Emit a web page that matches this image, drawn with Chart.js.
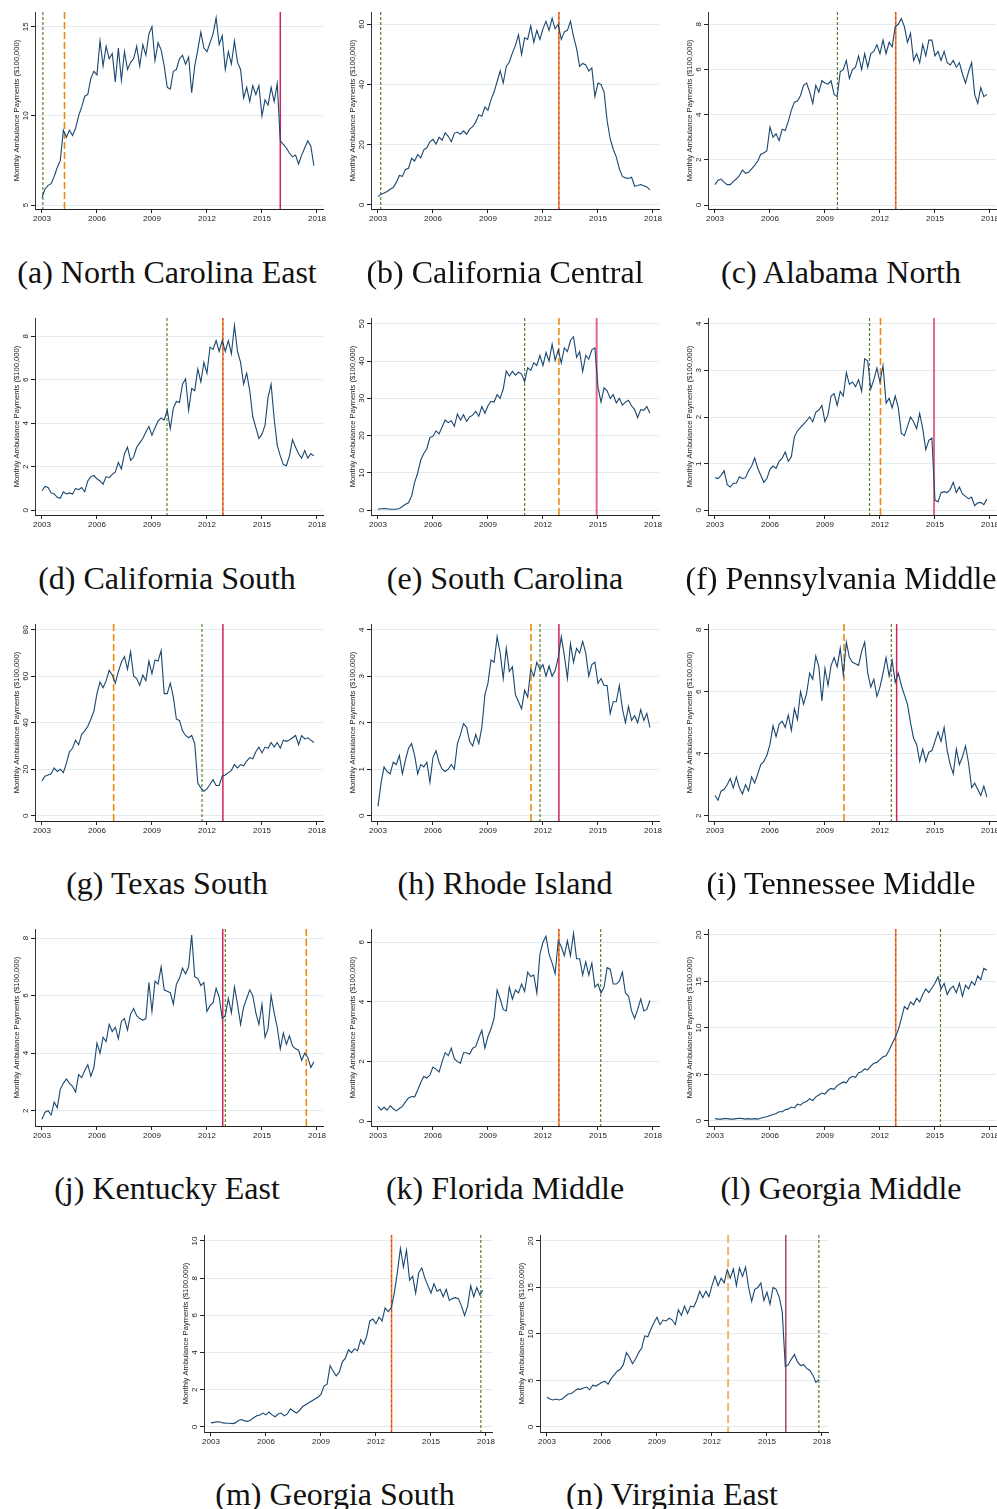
<!DOCTYPE html>
<html>
<head>
<meta charset="utf-8">
<script src="https://cdn.jsdelivr.net/npm/chart.js@4.4.1/dist/chart.umd.min.js"></script>
<style>
  html, body { margin: 0; padding: 0; background: #fff; overflow: hidden; }
  body { width: 997px; height: 1509px; position: relative; }
  canvas { position: absolute; }
  .cap { position: absolute; font-family: "Liberation Serif", "Times New Roman", serif; font-size: 32px;
         line-height: 32px; white-space: nowrap; color: #111; transform: translateX(-50%); }
</style>
</head>
<body>
<script>
// bimonthly observations, Jan 2003 .. Nov 2017
const OBS_DATES = Array.from({ length: 90 }, (_, i) => 2003 + i / 6);
const X_TICKS = [2003, 2006, 2009, 2012, 2015, 2018];
const Y_TITLE = 'Monthly Ambulance Payments ($100,000)';

// series, $100,000 per month
const NC_EAST = [5.4, 5.9, 6.1, 6.2, 6.6, 7.1, 7.5, 9.2, 8.8, 9.2, 8.9, 9.3, 10.0, 10.5, 11.1, 11.2, 12.1, 12.5,
  12.3, 14.2, 12.8, 13.9, 13.2, 13.5, 11.9, 13.8, 12.0, 13.6, 12.6, 13.0, 13.2, 13.9, 12.8, 14.0, 13.4, 14.6,
  15.0, 13.1, 14.1, 13.7, 12.8, 11.6, 11.5, 12.5, 12.6, 13.2, 13.4, 12.9, 13.3, 11.3, 12.8, 13.7, 14.7, 13.8,
  13.6, 14.1, 14.6, 15.5, 14.0, 14.5, 12.6, 13.6, 12.9, 14.2, 13.0, 12.6, 11.0, 11.6, 10.8, 11.7, 11.2, 11.7,
  10.0, 10.9, 10.6, 11.6, 10.8, 11.8, 8.6, 8.4, 8.2, 7.9, 7.7, 7.8, 7.3, 7.8, 8.2, 8.6, 8.3, 7.2];
const CA_CENTRAL = [2.8, 3.6, 4.0, 4.5, 5.2, 5.8, 7.5, 9.8, 9.5, 11.8, 12.2, 15.5, 14.6, 16.8, 15.6, 18.3, 19.0, 21.0,
  21.8, 20.2, 22.5, 21.5, 24.0, 22.8, 21.0, 23.8, 24.2, 23.5, 24.6, 23.5, 25.2, 26.0, 27.5, 30.0, 29.5, 32.5,
  31.5, 35.0, 37.5, 41.0, 44.5, 40.5, 46.0, 47.5, 50.5, 53.0, 56.5, 50.0, 55.5, 55.0, 59.5, 54.0, 58.0, 55.0,
  58.5, 61.0, 58.0, 62.0, 58.5, 60.0, 55.0, 57.5, 58.0, 61.0, 56.0, 52.0, 46.0, 47.0, 46.5, 44.5, 45.5, 36.0,
  40.5, 40.0, 37.5, 28.0, 22.0, 18.5, 16.0, 12.0, 9.5, 9.0, 8.8, 9.2, 6.3, 6.5, 6.8, 6.4, 6.0, 5.0];
const AL_NORTH = [0.9, 1.1, 1.15, 1.0, 0.9, 0.9, 1.05, 1.15, 1.3, 1.55, 1.4, 1.45, 1.6, 1.75, 1.95, 2.25, 2.3, 2.4,
  3.45, 3.0, 3.15, 2.85, 3.35, 3.3, 3.7, 4.2, 4.55, 4.6, 4.85, 5.3, 5.4, 5.0, 4.5, 5.3, 5.0, 5.5,
  5.4, 5.35, 5.5, 4.9, 4.8, 5.9, 6.0, 6.4, 5.6, 6.0, 6.1, 6.6, 6.0, 6.7, 6.1, 6.7, 6.8, 7.1,
  6.7, 7.3, 6.7, 7.2, 7.0, 7.9, 8.0, 8.25, 7.9, 7.2, 7.6, 6.4, 6.7, 6.3, 7.1, 6.6, 7.3, 7.3,
  6.6, 6.8, 6.4, 6.8, 6.3, 6.2, 6.4, 6.1, 6.3, 5.8, 5.4, 5.9, 6.3, 4.9, 4.5, 5.2, 4.8, 4.9];
const CA_SOUTH = [0.9, 1.1, 1.05, 0.8, 0.75, 0.6, 0.55, 0.85, 0.75, 0.8, 0.75, 1.0, 0.95, 1.05, 0.85, 1.35, 1.55, 1.6,
  1.45, 1.35, 1.2, 1.55, 1.5, 1.65, 1.75, 2.2, 1.9, 2.6, 2.9, 2.3, 2.45, 2.9, 3.1, 3.3, 3.6, 3.85,
  3.45, 3.8, 4.1, 4.25, 4.15, 4.6, 3.75, 4.7, 5.0, 4.95, 5.8, 6.05, 4.6, 5.6, 5.5, 6.5, 5.9, 6.8,
  6.3, 7.5, 7.4, 7.8, 7.3, 7.8, 7.3, 7.8, 7.2, 8.5, 7.3, 6.8, 5.8, 6.3, 5.5, 4.3, 3.8, 3.3,
  3.5, 3.9, 5.2, 5.8, 4.2, 3.0, 2.5, 2.1, 2.05, 2.5, 3.25, 2.9, 2.6, 2.4, 2.75, 2.4, 2.6, 2.5];
const SC_STATE = [0.3, 0.4, 0.5, 0.4, 0.3, 0.3, 0.3, 0.5, 1.0, 1.6, 2.0, 3.8, 7.5, 10.0, 13.5, 15.2, 16.5, 19.5,
  19.8, 21.3, 20.5, 22.3, 24.2, 23.5, 24.0, 22.5, 25.8, 24.2, 25.6, 23.8, 25.0, 25.5, 26.5, 25.2, 27.8, 26.0,
  28.0, 29.2, 29.0, 31.0, 30.0, 32.5, 37.3, 36.0, 37.2, 36.2, 37.0, 36.5, 34.5, 38.2, 37.5, 39.5, 38.8, 41.5,
  38.8, 42.3, 40.0, 44.5, 40.2, 43.0, 39.5, 43.5, 42.5, 45.5, 46.5, 41.0, 42.5, 37.2, 41.5, 40.5, 43.0, 43.5,
  33.0, 29.0, 32.8, 32.0, 30.0, 31.0, 28.8, 30.0, 28.2, 29.0, 29.5, 28.0, 27.0, 24.8, 27.0, 26.8, 27.8, 26.0];
const PA_MIDDLE = [0.7, 0.68, 0.75, 0.85, 0.55, 0.5, 0.58, 0.58, 0.72, 0.68, 0.7, 0.85, 0.95, 1.12, 0.9, 0.75, 0.6, 0.68,
  0.88, 0.95, 0.9, 1.05, 1.12, 1.25, 1.05, 1.15, 1.58, 1.7, 1.78, 1.85, 1.92, 2.0, 1.9, 2.1, 2.15, 2.25,
  1.9, 2.05, 2.45, 2.5, 2.25, 2.55, 2.45, 2.95, 2.7, 2.75, 2.65, 2.8, 2.55, 3.25, 3.2, 2.6, 2.8, 3.05,
  2.75, 3.1, 2.3, 2.4, 2.2, 2.45, 2.2, 1.65, 1.6, 1.8, 2.0, 1.9, 1.75, 2.08, 1.75, 1.3, 1.5, 1.55,
  0.22, 0.18, 0.38, 0.4, 0.38, 0.45, 0.6, 0.38, 0.5, 0.35, 0.3, 0.25, 0.28, 0.1, 0.16, 0.17, 0.12, 0.24];
const TX_SOUTH = [15.0, 17.0, 17.5, 18.0, 20.5, 19.0, 20.0, 18.5, 22.5, 27.5, 29.0, 32.5, 30.5, 35.0, 36.5, 38.5, 41.5, 45.0,
  52.5, 57.5, 55.0, 58.0, 62.5, 60.5, 57.0, 62.0, 66.0, 68.5, 63.0, 70.5, 60.0, 59.0, 56.0, 60.5, 58.0, 66.5,
  61.0, 67.0, 66.5, 71.0, 52.5, 52.5, 57.0, 51.0, 41.5, 41.0, 36.5, 34.5, 33.5, 34.5, 31.0, 14.0, 12.0, 10.5,
  11.5, 13.5, 15.5, 13.0, 13.0, 17.0, 17.5, 18.5, 19.5, 22.0, 20.5, 22.0, 21.5, 23.5, 25.0, 24.5, 27.5, 29.5,
  27.0, 29.5, 29.0, 31.5, 29.5, 31.5, 29.0, 32.5, 32.0, 32.5, 33.5, 34.5, 30.5, 34.5, 33.0, 33.5, 32.5, 31.5];
const RI_STATE = [0.2, 0.7, 1.05, 0.95, 0.9, 1.15, 1.1, 1.3, 0.9, 1.2, 1.45, 1.55, 1.3, 0.9, 1.1, 1.05, 1.15, 0.72,
  1.25, 1.4, 1.15, 1.0, 0.95, 1.0, 1.1, 1.0, 1.55, 1.75, 1.98, 1.9, 1.6, 1.5, 1.75, 1.55, 1.9, 2.6,
  2.85, 3.35, 3.3, 3.85, 3.5, 2.95, 3.6, 3.1, 3.2, 2.6, 2.45, 2.3, 2.7, 2.55, 3.15, 3.0, 3.3, 3.15,
  3.25, 3.0, 3.22, 3.0, 3.12, 3.4, 3.85, 3.45, 2.95, 3.7, 3.3, 3.6, 3.5, 3.75, 3.5, 3.0, 3.25, 3.3,
  2.85, 2.95, 2.8, 2.8, 2.2, 2.45, 2.45, 2.8, 2.3, 2.0, 2.35, 2.05, 2.15, 2.0, 2.28, 2.05, 2.2, 1.9];
const TN_MIDDLE = [2.65, 2.5, 2.8, 2.85, 3.0, 3.2, 2.9, 3.25, 2.9, 2.7, 3.0, 2.8, 3.25, 3.05, 3.35, 3.65, 3.75, 3.95,
  4.3, 4.9, 4.55, 4.95, 5.05, 4.85, 5.25, 4.75, 5.45, 5.1, 6.0, 5.6, 5.95, 6.6, 6.4, 7.15, 6.8, 5.7,
  6.75, 6.2, 6.85, 7.1, 6.8, 7.4, 6.55, 7.6, 7.1, 6.95, 6.9, 6.85, 7.3, 7.6, 6.6, 6.15, 6.4, 5.85,
  6.15, 6.6, 7.1, 6.5, 7.0, 6.3, 6.6, 6.2, 5.9, 5.6, 5.0, 4.5, 4.3, 3.75, 4.15, 3.75, 4.05, 4.1,
  4.4, 4.7, 4.4, 4.85, 4.1, 3.65, 3.35, 4.15, 3.65, 3.9, 4.25, 3.7, 2.9, 3.05, 2.85, 2.65, 2.95, 2.6];
const KY_EAST = [1.7, 1.95, 2.0, 1.85, 2.3, 2.1, 2.75, 2.95, 3.1, 2.95, 2.85, 2.65, 3.25, 3.15, 3.4, 3.6, 3.2, 3.5,
  4.35, 4.0, 4.55, 4.4, 5.0, 4.75, 4.9, 4.5, 5.1, 5.2, 4.8, 5.35, 5.55, 5.3, 5.2, 5.15, 5.2, 6.45,
  5.45, 6.5, 6.4, 7.0, 6.2, 6.15, 6.1, 5.7, 6.4, 6.6, 6.95, 6.75, 7.0, 8.1, 6.65, 6.6, 6.35, 6.45,
  5.45, 5.65, 5.75, 6.25, 5.95, 5.2, 5.3, 5.9, 5.4, 6.3, 5.7, 5.0, 5.6, 5.9, 6.2, 6.0, 5.4, 5.0,
  5.7, 4.55, 4.85, 6.0, 5.4, 4.9, 4.15, 4.7, 4.3, 4.6, 4.25, 4.15, 4.1, 3.75, 4.0, 3.85, 3.5, 3.7];
const FL_MIDDLE = [0.5, 0.38, 0.47, 0.37, 0.52, 0.42, 0.35, 0.43, 0.5, 0.65, 0.78, 0.83, 0.82, 1.05, 1.3, 1.5, 1.45, 1.55,
  1.82, 1.75, 1.65, 2.0, 2.3, 2.2, 2.45, 2.1, 2.0, 1.95, 2.3, 2.3, 2.25, 2.45, 2.5, 2.8, 3.05, 2.45,
  2.85, 3.1, 3.45, 4.4, 4.1, 3.75, 3.7, 4.5, 4.1, 4.4, 4.3, 4.6, 4.35, 5.0, 4.85, 4.9, 4.3, 5.6,
  6.0, 6.2, 5.6, 5.3, 4.95, 6.05, 5.85, 5.55, 6.05, 5.55, 6.3, 5.45, 5.45, 4.9, 5.35, 4.9, 5.3, 4.5,
  4.6, 4.3, 4.5, 5.15, 5.1, 4.6, 4.6, 4.7, 5.0, 4.3, 4.2, 3.7, 3.45, 3.75, 4.1, 3.7, 3.75, 4.05];
const GA_MIDDLE = [0.25, 0.2, 0.2, 0.25, 0.25, 0.2, 0.2, 0.25, 0.3, 0.25, 0.2, 0.25, 0.2, 0.25, 0.2, 0.3, 0.4, 0.45,
  0.6, 0.7, 0.8, 1.0, 1.0, 1.2, 1.3, 1.5, 1.4, 1.8, 1.7, 2.0, 2.1, 2.4, 2.2, 2.6, 2.8, 3.0,
  2.9, 3.3, 3.5, 3.4, 3.8, 4.0, 4.2, 4.1, 4.6, 4.8, 4.7, 5.2, 5.3, 5.6, 5.5, 5.9, 6.2, 6.3,
  6.6, 6.9, 7.0, 7.6, 8.3, 9.0, 9.8, 11.0, 12.3, 12.0, 12.8, 12.5, 13.2, 12.8, 13.6, 14.2, 13.8, 14.3,
  14.8, 15.5, 14.2, 14.8, 13.6, 14.2, 14.5, 13.8, 14.8, 13.4, 14.6, 14.2, 15.0, 14.6, 15.6, 15.2, 16.4, 16.2];
const GA_SOUTH = [0.22, 0.25, 0.28, 0.27, 0.22, 0.2, 0.2, 0.18, 0.22, 0.35, 0.4, 0.33, 0.3, 0.38, 0.5, 0.6, 0.65, 0.75,
  0.65, 0.8, 0.65, 0.55, 0.7, 0.75, 0.6, 0.7, 0.98, 0.85, 0.75, 0.9, 1.1, 1.2, 1.3, 1.4, 1.5, 1.6,
  1.75, 2.2, 2.3, 3.3, 3.0, 2.75, 2.95, 3.5, 3.7, 4.15, 4.0, 4.2, 4.1, 4.7, 4.45, 4.9, 5.7, 5.8,
  5.55, 5.9, 5.7, 6.4, 6.2, 6.4, 7.2, 8.3, 9.6, 8.6, 9.5, 7.9, 8.1, 7.2, 8.3, 8.55, 8.0, 7.6,
  7.2, 7.7, 7.3, 7.4, 7.0, 7.4, 6.8, 6.9, 6.95, 6.9, 6.5, 6.0, 6.5, 7.6, 7.0, 7.5, 7.1, 7.35];
const VA_EAST = [3.2, 3.0, 2.9, 3.0, 2.9, 3.0, 3.3, 3.55, 3.6, 3.85, 4.1, 4.05, 4.2, 4.3, 4.0, 4.5, 4.4, 4.6,
  4.8, 4.9, 4.6, 5.2, 5.6, 6.0, 6.2, 6.7, 8.0, 7.5, 6.8, 7.3, 8.0, 8.5, 9.8, 9.7, 10.5, 11.2,
  11.8, 11.0, 11.5, 11.4, 11.7, 11.5, 11.0, 12.6, 12.0, 13.0, 12.2, 13.0, 12.9, 13.6, 14.6, 13.9, 14.6, 14.0,
  15.2, 16.2, 15.2, 16.0, 15.5, 16.9, 16.0, 17.0, 15.2, 17.1, 16.2, 17.2, 15.0, 13.5, 14.8, 15.0, 15.5, 13.6,
  14.5, 13.2, 15.0, 14.8, 14.0, 12.4, 6.5, 6.7, 7.3, 7.8, 7.0, 6.6, 6.7, 6.3, 6.1, 5.6, 4.8, 5.1];

// y tick values per panel
const TICKS_A = [5, 10, 15];
const TICKS_B = [0, 20, 40, 60];
const TICKS_C = [0, 2, 4, 6, 8];
const TICKS_D = [0, 2, 4, 6, 8];
const TICKS_E = [0, 10, 20, 30, 40, 50];
const TICKS_F = [0, 1, 2, 3, 4];
const TICKS_G = [0, 20, 40, 60, 80];
const TICKS_H = [0, 1, 2, 3, 4];
const TICKS_I = [2, 4, 6, 8];
const TICKS_J = [2, 4, 6, 8];
const TICKS_K = [0, 2, 4, 6];
const TICKS_L = [0, 5, 10, 15, 20];
const TICKS_M = [0, 2, 4, 6, 8, 10];
const TICKS_N = [0, 5, 10, 15, 20];

// vertical event lines: [date, kind]
const EVENTS_A = [[2003.05, 'g'], [2004.23, 'o'], [2016.0, 'r']];
const EVENTS_B = [[2003.15, 'g'], [2012.87, 'or']];
const EVENTS_C = [[2009.68, 'g'], [2012.86, 'or']];
const EVENTS_D = [[2009.82, 'g'], [2012.87, 'or']];
const EVENTS_E = [[2011.0, 'g'], [2012.87, 'o'], [2014.93, 'rp']];
const EVENTS_F = [[2011.43, 'g'], [2012.03, 'o'], [2014.95, 'rp']];
const EVENTS_G = [[2006.91, 'o'], [2011.73, 'g'], [2012.87, 'r']];
const EVENTS_H = [[2011.35, 'o'], [2011.84, 'g'], [2012.87, 'r']];
const EVENTS_I = [[2010.04, 'o'], [2012.62, 'g'], [2012.91, 'r']];
const EVENTS_J = [[2012.86, 'r'], [2013.0, 'g'], [2017.42, 'o']];
const EVENTS_K = [[2012.87, 'or'], [2015.15, 'g']];
const EVENTS_L = [[2012.86, 'or'], [2015.3, 'g']];
const EVENTS_M = [[2012.85, 'or'], [2017.72, 'g']];
const EVENTS_N = [[2012.88, 'ol'], [2016.03, 'rd'], [2017.83, 'g']];

const LINE_STYLES = {
  g:  [{ color: '#5b7f2e', width: 1.2, dash: [3, 2] }],
  o:  [{ color: '#ea8a10', width: 1.6, dash: [7, 3] }],
  ol: [{ color: '#f2b66a', width: 2, dash: [8, 4] }],
  r:  [{ color: '#d3234f', width: 1.5, dash: [] }],
  rp: [{ color: '#e6668a', width: 2, dash: [] }],
  rd: [{ color: '#8e1b33', width: 1.2, dash: [] }],
  or: [{ color: '#ec7f12', width: 1.6, dash: [] }, { color: '#d4306a', width: 1, dash: [2, 3] }]
};

// layout
const YW = 36, PLOT_W = 288, PR = 14, PLOT_H = 197, XH = 22;
const X_MIN = 2002.62, X_MAX = 2018.33;
const ROW_TOP = [12, 318, 624, 929, 1235];
const ROW_BASE = [283, 589, 894, 1199, 1505];
const COL_AX = [34.7, 371.3, 708];
const COL_CX = [167, 505, 841];

const PANELS = [
  { tag: 'a', name: 'North Carolina East', series: NC_EAST, ticks: TICKS_A, yMin: 4.776, yMax: 15.824, events: EVENTS_A, row: 0, col: 0 },
  { tag: 'b', name: 'California Central', series: CA_CENTRAL, ticks: TICKS_B, yMin: -1.33, yMax: 64.08, events: EVENTS_B, row: 0, col: 1 },
  { tag: 'c', name: 'Alabama North', series: AL_NORTH, ticks: TICKS_C, yMin: -0.177, yMax: 8.545, events: EVENTS_C, row: 0, col: 2 },
  { tag: 'd', name: 'California South', series: CA_SOUTH, ticks: TICKS_D, yMin: -0.216, yMax: 8.841, events: EVENTS_D, row: 1, col: 0 },
  { tag: 'e', name: 'South Carolina', series: SC_STATE, ticks: TICKS_E, yMin: -1.26, yMax: 51.53, events: EVENTS_E, row: 1, col: 1 },
  { tag: 'f', name: 'Pennsylvania Middle', series: PA_MIDDLE, ticks: TICKS_F, yMin: -0.1, yMax: 4.122, events: EVENTS_F, row: 1, col: 2 },
  { tag: 'g', name: 'Texas South', series: TX_SOUTH, ticks: TICKS_G, yMin: -2.28, yMax: 82.45, events: EVENTS_G, row: 2, col: 0 },
  { tag: 'h', name: 'Rhode Island', series: RI_STATE, ticks: TICKS_H, yMin: -0.114, yMax: 4.123, events: EVENTS_H, row: 2, col: 1 },
  { tag: 'i', name: 'Tennessee Middle', series: TN_MIDDLE, ticks: TICKS_I, yMin: 1.829, yMax: 8.184, events: EVENTS_I, row: 2, col: 2 },
  { tag: 'j', name: 'Kentucky East', series: KY_EAST, ticks: TICKS_J, yMin: 1.468, yMax: 8.313, events: EVENTS_J, row: 3, col: 0 },
  { tag: 'k', name: 'Florida Middle', series: FL_MIDDLE, ticks: TICKS_K, yMin: -0.158, yMax: 6.446, events: EVENTS_K, row: 3, col: 1 },
  { tag: 'l', name: 'Georgia Middle', series: GA_MIDDLE, ticks: TICKS_L, yMin: -0.54, yMax: 20.645, events: EVENTS_L, row: 3, col: 2 },
  { tag: 'm', name: 'Georgia South', series: GA_SOUTH, ticks: TICKS_M, yMin: -0.269, yMax: 10.32, events: EVENTS_M, row: 4, ax: 203.5, cx: 335 },
  { tag: 'n', name: 'Virginia East', series: VA_EAST, ticks: TICKS_N, yMin: -0.54, yMax: 20.645, events: EVENTS_N, row: 4, ax: 540, cx: 672 }
];

Chart.defaults.font.family = '"Liberation Sans", Arial, sans-serif';

const eventLines = {
  id: 'eventLines',
  beforeDatasetsDraw(chart, args, opts) {
    const ctx = chart.ctx, area = chart.chartArea, xs = chart.scales.x;
    ctx.save();
    opts.lines.forEach(([date, kind]) => {
      const x = xs.getPixelForValue(date);
      LINE_STYLES[kind].forEach(st => {
        ctx.strokeStyle = st.color;
        ctx.lineWidth = st.width;
        ctx.setLineDash(st.dash);
        ctx.beginPath();
        ctx.moveTo(x, area.top);
        ctx.lineTo(x, area.bottom);
        ctx.stroke();
      });
    });
    ctx.restore();
  }
};

// Stata-style vertical y labels and axis title
const yLabels = {
  id: 'yLabels',
  afterDraw(chart) {
    const ctx = chart.ctx, ys = chart.scales.y, area = chart.chartArea;
    ctx.save();
    ctx.fillStyle = '#222';
    ctx.textAlign = 'center';
    ctx.textBaseline = 'alphabetic';
    ctx.font = '8px "Liberation Sans", Arial, sans-serif';
    ys.ticks.forEach(t => {
      ctx.save();
      ctx.translate(area.left - 7, ys.getPixelForValue(t.value));
      ctx.rotate(-Math.PI / 2);
      ctx.fillText(String(t.value), 0, 0);
      ctx.restore();
    });
    ctx.font = '7.6px "Liberation Sans", Arial, sans-serif';
    ctx.textBaseline = 'middle';
    ctx.translate(area.left - 18.5, (area.top + area.bottom) / 2);
    ctx.rotate(-Math.PI / 2);
    ctx.fillText(Y_TITLE, 0, 0);
    ctx.restore();
  }
};

function drawPanel(p) {
  const ax = p.ax !== undefined ? p.ax : COL_AX[p.col];
  const cx = p.cx !== undefined ? p.cx : COL_CX[p.col];
  const top = ROW_TOP[p.row];

  const canvas = document.createElement('canvas');
  canvas.width = YW + PLOT_W + PR;
  canvas.height = PLOT_H + XH;
  canvas.style.left = (ax - YW) + 'px';
  canvas.style.top = top + 'px';
  document.body.appendChild(canvas);

  new Chart(canvas, {
    type: 'line',
    data: {
      datasets: [{
        data: OBS_DATES.map((d, i) => ({ x: d, y: p.series[i] })),
        borderColor: '#1a476f',
        borderWidth: 1.1,
        pointRadius: 0,
        tension: 0,
        fill: false
      }]
    },
    options: {
      animation: false,
      responsive: false,
      devicePixelRatio: 1,
      layout: { padding: { left: 0, right: PR, top: 0, bottom: 0 } },
      plugins: {
        legend: { display: false },
        tooltip: { enabled: false },
        eventLines: { lines: p.events }
      },
      scales: {
        x: {
          type: 'linear',
          min: X_MIN,
          max: X_MAX,
          afterBuildTicks: s => { s.ticks = X_TICKS.map(v => ({ value: v })); },
          afterFit: s => { s.height = XH; },
          grid: { drawOnChartArea: false, drawTicks: true, tickLength: 4, tickColor: '#222' },
          border: { display: true, color: '#222', width: 1 },
          ticks: { color: '#222', font: { size: 8 }, padding: 1, maxRotation: 0, autoSkip: false,
                   callback: v => String(v) }
        },
        y: {
          type: 'linear',
          min: p.yMin,
          max: p.yMax,
          afterBuildTicks: s => { s.ticks = p.ticks.map(v => ({ value: v })); },
          afterFit: s => { s.width = YW; },
          grid: { color: '#e2eaed', lineWidth: 1, drawTicks: true, tickLength: 4, tickColor: '#222' },
          border: { display: true, color: '#333', width: 1 },
          ticks: { display: false }
        }
      }
    },
    plugins: [eventLines, yLabels]
  });

  const cap = document.createElement('div');
  cap.className = 'cap';
  cap.textContent = '(' + p.tag + ') ' + p.name;
  cap.style.left = cx + 'px';
  cap.style.top = (ROW_BASE[p.row] - 27) + 'px';
  document.body.appendChild(cap);
}

PANELS.forEach(drawPanel);
</script>
</body>
</html>
